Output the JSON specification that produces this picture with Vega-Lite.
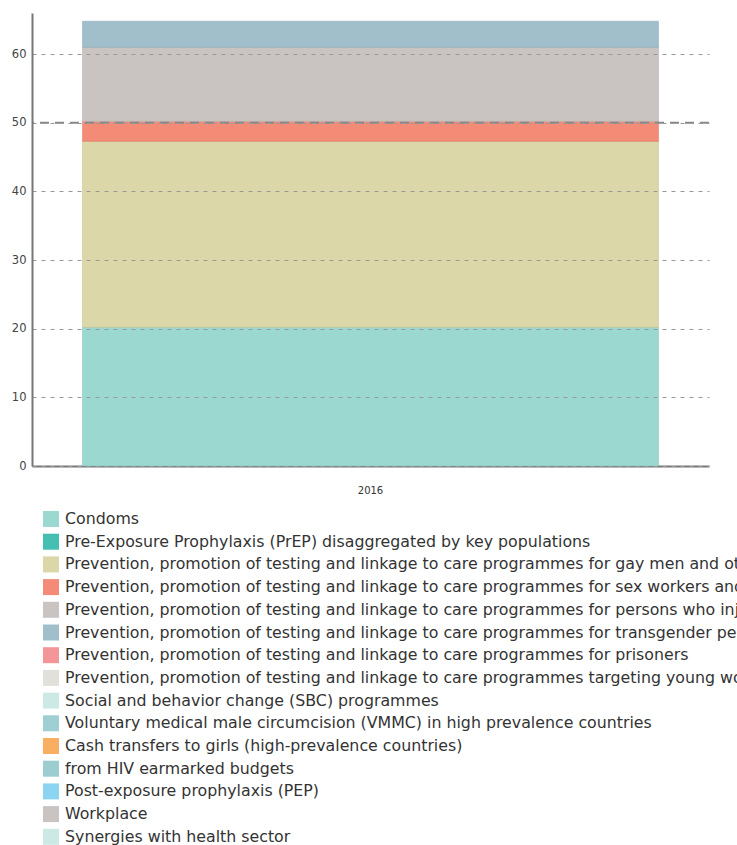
{
  "$schema": "https://vega.github.io/schema/vega-lite/v6.json",
  "autosize": {"type": "none"},
  "width": 677,
  "height": 453,
  "padding": {"left": 32, "top": 13, "right": 28, "bottom": 379},
  "background": "white",
  "config": {
    "font": "DejaVu Sans",
    "view": {"stroke": null},
    "axis": {"labelFont": "DejaVu Sans", "labelColor": "#333"}
  },
  "datasets": {
    "spend": [
      {"year": "2016", "category": "Condoms", "rank": 1, "value": 20.2},
      {"year": "2016", "category": "Prevention, promotion of testing and linkage to care programmes for gay men and other men who have sex with men", "rank": 2, "value": 27.1},
      {"year": "2016", "category": "Prevention, promotion of testing and linkage to care programmes for sex workers and their clients", "rank": 3, "value": 2.9},
      {"year": "2016", "category": "Prevention, promotion of testing and linkage to care programmes for persons who inject drugs", "rank": 4, "value": 10.8},
      {"year": "2016", "category": "Prevention, promotion of testing and linkage to care programmes for transgender people", "rank": 5, "value": 3.8}
    ],
    "target": [{"level": 50}]
  },
  "layer": [
    {
      "data": {"name": "spend"},
      "mark": {"type": "bar", "strokeWidth": 1, "strokeOpacity": 0.5},
      "encoding": {
        "x": {
          "field": "year", "type": "nominal",
          "scale": {"paddingInner": 0, "paddingOuter": 0.0877},
          "axis": {"title": null, "labelAngle": 0, "labelFontSize": 10, "ticks": false, "labelPadding": 19, "domainColor": "#777", "domainWidth": 2}
        },
        "y": {
          "field": "value", "type": "quantitative", "stack": "zero",
          "scale": {"domain": [0, 66], "nice": false},
          "axis": {"title": null, "values": [0, 10, 20, 30, 40, 50, 60], "ticks": false, "labelPadding": 6, "labelFontSize": 11.5, "labelColor": "#444", "domainColor": "#777", "domainWidth": 2, "grid": true, "gridDash": [4, 5], "gridColor": "#999", "gridWidth": 1, "zindex": 1}
        },
        "order": {"field": "rank", "type": "quantitative", "sort": "ascending"},
        "stroke": {"field": "category", "type": "nominal", "legend": null,
          "scale": {
            "domain": ["Condoms", "Prevention, promotion of testing and linkage to care programmes for gay men and other men who have sex with men", "Prevention, promotion of testing and linkage to care programmes for sex workers and their clients", "Prevention, promotion of testing and linkage to care programmes for persons who inject drugs", "Prevention, promotion of testing and linkage to care programmes for transgender people"],
            "range": ["#7fbfb6", "#c4c08f", "#d9705d", "#b0aaa7", "#86a7b3"]
          }
        },
        "color": {
          "field": "category", "type": "nominal",
          "scale": {
            "domain": [
              "Condoms",
              "Pre-Exposure Prophylaxis (PrEP) disaggregated by key populations",
              "Prevention, promotion of testing and linkage to care programmes for gay men and other men who have sex with men",
              "Prevention, promotion of testing and linkage to care programmes for sex workers and their clients",
              "Prevention, promotion of testing and linkage to care programmes for persons who inject drugs",
              "Prevention, promotion of testing and linkage to care programmes for transgender people",
              "Prevention, promotion of testing and linkage to care programmes for prisoners",
              "Prevention, promotion of testing and linkage to care programmes targeting young women and adolescent girls",
              "Social and behavior change (SBC) programmes",
              "Voluntary medical male circumcision (VMMC) in high prevalence countries",
              "Cash transfers to girls (high-prevalence countries)",
              "from HIV earmarked budgets",
              "Post-exposure prophylaxis (PEP)",
              "Workplace",
              "Synergies with health sector"
            ],
            "range": ["#9ad8d0", "#45bfb1", "#dbd7a8", "#f48b77", "#c9c4c1", "#a0bfca", "#f4959a", "#e2e0da", "#cde9e5", "#9ecfd2", "#f9ae62", "#9ccdd1", "#8cd5f1", "#c9c4c1", "#cde9e5"]
          },
          "legend": {
            "title": null,
            "orient": "none",
            "legendX": 11,
            "legendY": 498,
            "direction": "vertical",
            "columns": 1,
            "symbolType": "square",
            "symbolSize": 256,
            "symbolStrokeWidth": 0,
            "symbolOpacity": 1,
            "labelFontSize": 15.8,
            "labelFont": "DejaVu Sans",
            "labelColor": "#333",
            "labelLimit": 2000,
            "labelOffset": 6,
            "rowPadding": 6.7
          }
        }
      }
    },
    {
      "data": {"name": "target"},
      "mark": {"type": "rule", "strokeDash": [9, 6], "strokeWidth": 2, "color": "#888"},
      "encoding": {
        "y": {"field": "level", "type": "quantitative"}
      }
    }
  ]
}
